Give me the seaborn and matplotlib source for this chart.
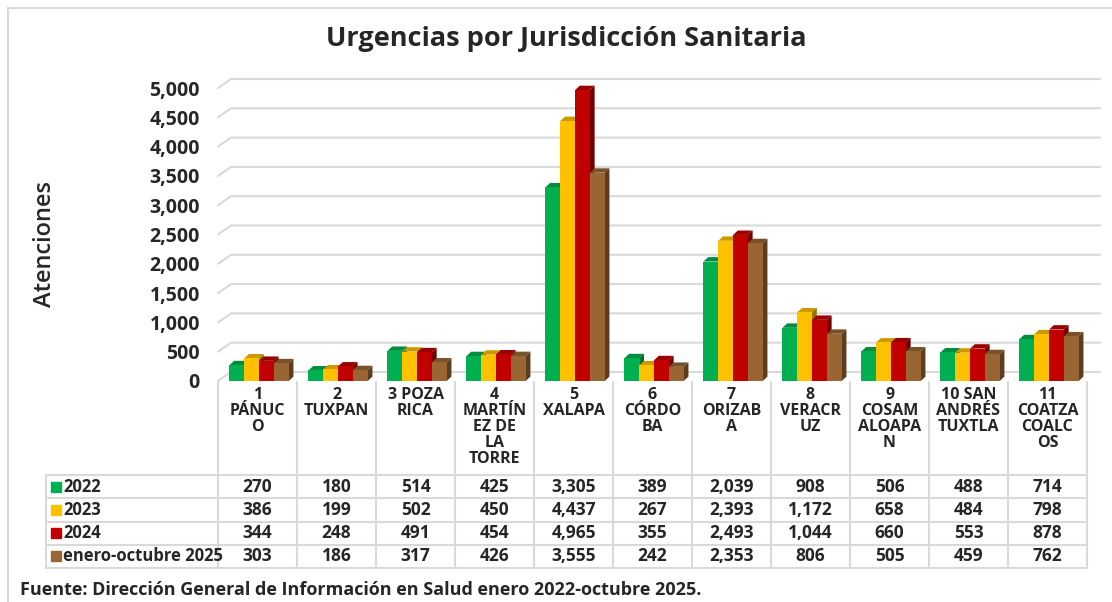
import numpy as np
import pandas as pd
import matplotlib
matplotlib.use("Agg")
import matplotlib.pyplot as plt
import matplotlib.colors as mcolors
from matplotlib.patches import Polygon, Rectangle
import seaborn as sns

# ==========================================
# Data
# ==========================================
jurisdicciones = ["1\nPÁNUC\nO", "2\nTUXPAN", "3 POZA\nRICA", "4\nMARTÍN\nEZ DE\nLA\nTORRE",
                  "5\nXALAPA", "6\nCÓRDO\nBA", "7\nORIZAB\nA", "8\nVERACR\nUZ",
                  "9\nCOSAM\nALOAPA\nN", "10 SAN\nANDRÉS\nTUXTLA", "11\nCOATZA\nCOALC\nOS"]
series = ["2022", "2023", "2024", "enero-octubre 2025"]
v2022 = [270, 180, 514, 425, 3305, 389, 2039, 908, 506, 488, 714]
v2023 = [386, 199, 502, 450, 4437, 267, 2393, 1172, 658, 484, 798]
v2024 = [344, 248, 491, 454, 4965, 355, 2493, 1044, 660, 553, 878]
v2025 = [303, 186, 317, 426, 3555, 242, 2353, 806, 505, 459, 762]
colores = ["#00B050", "#FFC000", "#C00000", "#996633"]
yticks = [0, 500, 1000, 1500, 2000, 2500, 3000, 3500, 4000, 4500, 5000]

valores = [v2022, v2023, v2024, v2025]
df = pd.DataFrame({
    "jur": jurisdicciones * len(series),
    "serie": np.repeat(series, len(jurisdicciones)),
    "valor": sum(valores, []),
})

sns.set_style("white")
plt.rcParams['font.family'] = ['Open Sans', 'DejaVu Sans']
plt.rcParams['font.weight'] = 'bold'

W, H = 1112, 602
fig = plt.figure(figsize=(W / 100, H / 100), dpi=100)
ax = fig.add_axes([218 / W, (H - 381) / H, 882 / W, 304.7 / H])

sns.barplot(data=df, x="jur", y="valor", hue="serie", palette=colores,
            width=0.75, saturation=1, edgecolor="none", legend=False, ax=ax, zorder=3)

# fake 3D: top + side faces for every bar
dx, dy = 0.06, 75
for bar in ax.patches:
    x0 = bar.get_x() + 0.02
    bar.set_x(x0)
    x1 = x0 + bar.get_width()
    h = bar.get_height()
    c = np.array(mcolors.to_rgb(bar.get_facecolor()))
    top = Polygon([(x0, h), (x0 + dx, h + dy), (x1 + dx, h + dy), (x1, h)],
                  closed=True, fc=c * 0.8, ec="none", zorder=2)
    side = Polygon([(x1, 0), (x1 + dx, dy), (x1 + dx, h + dy), (x1, h)],
                   closed=True, fc=c * 0.6, ec="none", zorder=2)
    ax.add_patch(top)
    ax.add_patch(side)

xmax = -0.5 + 882 / 79
ax.set_xlim(-0.5, xmax)
ax.set_ylim(0, 5200)

# back wall gridlines with the little diagonal on the left
gdx, gdy = 0.165, 154
for t in yticks:
    ax.plot([-0.5, -0.5 + gdx, xmax], [t, t + gdy, t + gdy],
            color="#D9D9D9", lw=1.5, zorder=0, clip_on=False)

ax.set_yticks(yticks)
ax.set_yticklabels([f"{t:,}" for t in yticks], fontsize=14, fontweight="bold")
ax.tick_params(axis="y", length=0, pad=13)
ax.set_xticks([])
ax.set_xlabel("")
ax.set_ylabel("")
for s in ax.spines.values():
    s.set_visible(False)

fig.text(45 / W, 1 - 244 / H, "Atenciones", rotation=90, fontsize=17,
         fontweight="semibold", ha="center", va="center")

# ==========================================
# Data table under the chart
# ==========================================
tax = fig.add_axes([46 / W, (H - 568) / H, (1100 - 46) / W, (568 - 382) / H])
xl = -0.5 - 172 / 79
tax.set_xlim(xl, xmax)
tax.set_ylim(0, 186)
tax.axis("off")
rh = 23.25
head = 4 * rh
n = len(jurisdicciones)
lc = "#D9D9D9"

for i in range(n + 1):
    tax.plot([-0.5 + i, -0.5 + i], [0, 186], color=lc, lw=1.5, clip_on=False)
tax.plot([xl, xl], [0, head], color=lc, lw=1.5, clip_on=False)
for r in range(5):
    tax.plot([xl, n - 0.5], [r * rh, r * rh], color=lc, lw=1.5, clip_on=False)

for i, lab in enumerate(jurisdicciones):
    tax.text(i, 186 - 5, lab, ha="center", va="top", fontsize=11.5,
             fontweight="bold", linespacing=1.0)

for r, (nombre, vals, col) in enumerate(zip(series, valores, colores)):
    yc = head - (r + 0.5) * rh
    tax.plot(xl + 10 / 79, yc, marker="s", ms=7, color=col, clip_on=False)
    tax.text(xl + 17 / 79, yc, nombre, ha="left", va="center", fontsize=12,
             fontweight="bold")
    for i, v in enumerate(vals):
        tax.text(i, yc, f"{v:,}", ha="center", va="center", fontsize=12.5,
                 fontweight="bold")

# ==========================================
# Title, source, frame
# ==========================================
fig.text(566 / W, 1 - 39 / H, "Urgencias por Jurisdicción Sanitaria",
         ha="center", va="center", fontsize=19.5, fontweight="bold")
fig.text(20 / W, 1 - 590 / H,
         "Fuente: Dirección General de Información en Salud enero 2022-octubre 2025.",
         ha="left", va="center", fontsize=13, fontweight="bold")
fig.add_artist(Rectangle((8 / W, -0.1), 1.2, (H - 8) / H + 0.1,
                         transform=fig.transFigure, fill=False, ec="#D9D9D9", lw=1.5))

fig.savefig("out.png", dpi=100)
